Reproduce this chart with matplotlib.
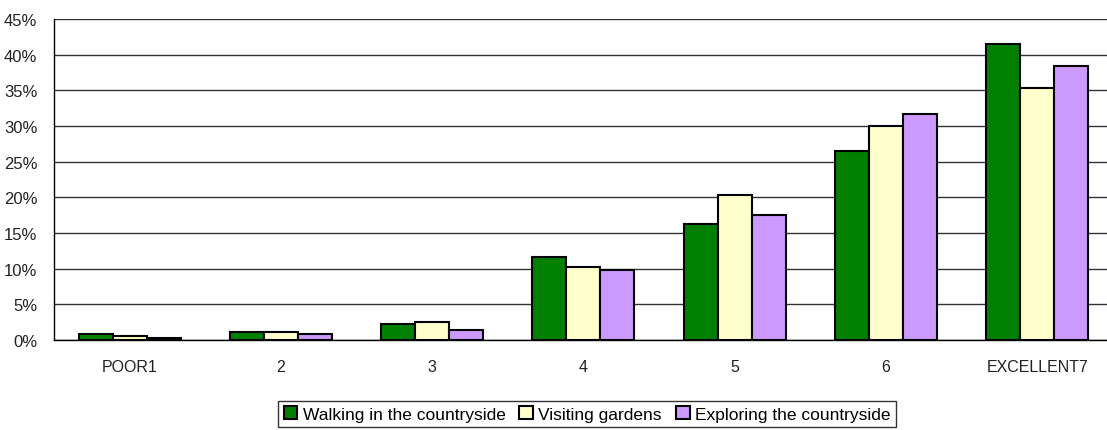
import matplotlib
matplotlib.use('Agg')
import matplotlib.pyplot as plt
import numpy as np

# ratings and share of answers per activity (%)
categories = ['POOR1', '2', '3', '4', '5', '6', 'EXCELLENT7']
walking = [0.8, 1.1, 2.2, 11.6, 16.3, 26.5, 41.5]
gardens = [0.6, 1.1, 2.5, 10.2, 20.3, 30.0, 35.3]
exploring = [0.3, 0.8, 1.4, 9.8, 17.5, 31.7, 38.4]
series_names = ['Walking in the countryside', 'Visiting gardens', 'Exploring the countryside']
colors = ['#007F00', '#FFFFCC', '#CC99FF']

plt.rcParams['font.family'] = ['Liberation Sans Narrow', 'Liberation Sans', 'DejaVu Sans']

fig = plt.figure(figsize=(11.07, 4.31), dpi=100)
ax = fig.add_axes([54/1107, 90/431, 1 - 54/1107, 321/431])

x = np.arange(len(categories))
w = 0.225
for k, (vals, name, c) in enumerate(zip([walking, gardens, exploring], series_names, colors)):
    ax.bar(x + (k - 1) * w, vals, w, color=c, edgecolor='black', linewidth=1.5,
           label=name, zorder=3)

ax.set_ylim(0, 45)
ax.set_yticks(np.arange(0, 46, 5))
ax.set_yticklabels([f'{v}%' for v in range(0, 46, 5)])
ax.set_xlim(-0.5, -0.5 + 1053/151.25)
ax.set_xticks(x)
ax.set_xticklabels(categories)
ax.tick_params(axis='both', length=0, labelsize=12, colors='#222222')
ax.tick_params(axis='x', pad=14, labelsize=11.5)
ax.tick_params(axis='y', pad=12)
ax.grid(axis='y', color='#333333', linewidth=1, zorder=0)
for s in ['top', 'right']:
    ax.spines[s].set_visible(False)
ax.spines['left'].set_linewidth(1)
ax.spines['bottom'].set_linewidth(1)

leg = ax.legend(loc='center', bbox_to_anchor=(587/1107, 16/431), bbox_transform=fig.transFigure,
                ncol=3, fontsize=12.5, frameon=True, fancybox=False, edgecolor='black',
                handlelength=0.8, handleheight=0.8, handletextpad=0.3, columnspacing=0.8,
                borderpad=0.3)
leg.get_frame().set_linewidth(1)

fig.savefig('out.png', dpi=100)
